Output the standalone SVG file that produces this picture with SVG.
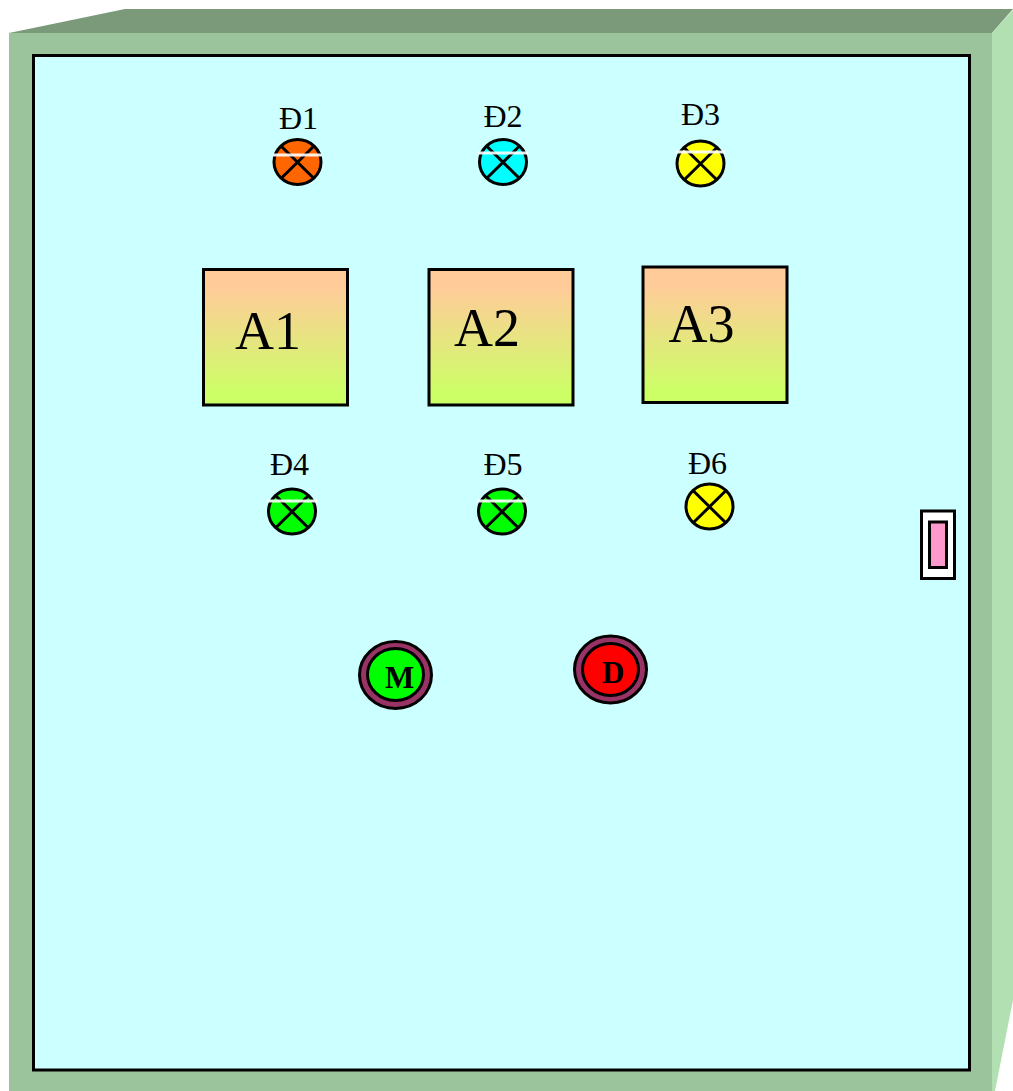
<svg xmlns="http://www.w3.org/2000/svg" width="1013" height="1091" viewBox="0 0 1013 1091">
<style>
text{font-family:"Liberation Serif","Times New Roman",serif;fill:#000}
.ol{stroke:#000;stroke-width:3}
.lbl{font-size:32px}
.big{font-size:54px}
.btn{font-size:31px;font-weight:bold}
.x{stroke:#000;stroke-width:3;fill:none}
.w{stroke:#fff;stroke-width:3;opacity:.9}
.ring{fill:#993366;stroke:#000;stroke-width:3}
</style>
<defs>
<linearGradient id="g" x1="0" y1="0" x2="0" y2="1"><stop offset="0.14" stop-color="#FFCC99"/><stop offset="0.92" stop-color="#CCFF66"/></linearGradient>
</defs>
<g id="cabinet">
<polygon points="9,33 125,9 1013,9 992,33" fill="#7A9A7A"/>
<polygon points="992,33 1013,10 1013,1000 995,1091 992,1091" fill="#B2E0B2"/>
<rect x="9" y="33" width="983" height="1058" fill="#9CC49C"/>
<rect x="33.5" y="55.5" width="936" height="1014.500" fill="#CCFFFF" class="ol"/>
</g>
<g id="lamp-d1">
<text class="lbl" x="279" y="129">Đ1</text>
<ellipse cx="297.500" cy="162" rx="23.500" ry="22.500" fill="#FF6600" class="ol"/>
<path class="x" d="M281 146L314 178.500M314 146L281 178.500"/>
<line class="w" x1="273" x2="322" y1="155" y2="155"/>
</g>
<g id="lamp-d2">
<text class="lbl" x="483.500" y="127">Đ2</text>
<ellipse cx="503" cy="162" rx="23.500" ry="22.500" fill="#00FFFF" class="ol"/>
<path class="x" d="M486.500 146L519.500 178.500M519.500 146L486.500 178.500"/>
<line class="w" x1="478" x2="528" y1="153" y2="153"/>
</g>
<g id="lamp-d3">
<text class="lbl" x="681" y="125">Đ3</text>
<ellipse cx="700.500" cy="163.500" rx="23.500" ry="22.500" fill="#FFFF00" class="ol"/>
<path class="x" d="M684 147.500L717 180M717 147.500L684 180"/>
<line class="w" x1="676" x2="725" y1="152" y2="152"/>
</g>
<g id="module-a1">
<rect x="203.500" y="269.500" width="144" height="135.500" fill="url(#g)" class="ol"/>
<text class="big" x="235" y="349">A1</text>
</g>
<g id="module-a2">
<rect x="429" y="269.500" width="144" height="135.500" fill="url(#g)" class="ol"/>
<text class="big" x="454" y="346">A2</text>
</g>
<g id="module-a3">
<rect x="643" y="267" width="144" height="135.500" fill="url(#g)" class="ol"/>
<text class="big" x="668.500" y="342">A3</text>
</g>
<g id="lamp-d4">
<text class="lbl" x="270" y="475">Đ4</text>
<ellipse cx="292" cy="511.500" rx="23.500" ry="22.500" fill="#00FF00" class="ol"/>
<path class="x" d="M275.500 495.500L308.500 528M308.500 495.500L275.500 528"/>
<line class="w" x1="267" x2="317" y1="501" y2="501"/>
</g>
<g id="lamp-d5">
<text class="lbl" x="483.500" y="475">Đ5</text>
<ellipse cx="502" cy="511.500" rx="23.500" ry="22.500" fill="#00FF00" class="ol"/>
<path class="x" d="M485.500 495.500L518.500 528M518.500 495.500L485.500 528"/>
<line class="w" x1="477" x2="527" y1="501" y2="501"/>
</g>
<g id="lamp-d6">
<text class="lbl" x="688" y="474">Đ6</text>
<ellipse cx="709.500" cy="506.500" rx="23.500" ry="22.500" fill="#FFFF00" class="ol"/>
<path class="x" d="M693 490.500L726 523M726 490.500L693 523"/>
</g>
<g id="switch">
<rect x="921.500" y="511" width="33" height="67.500" fill="#fff" class="ol"/>
<rect x="929.500" y="522" width="17" height="45.500" fill="#FF99CC" class="ol"/>
</g>
<g id="button-m">
<ellipse cx="395.500" cy="675" rx="36" ry="33.500" class="ring"/>
<ellipse cx="395.500" cy="674.500" rx="28" ry="26" fill="#00FF00" class="ol"/>
<text class="btn" x="385" y="688">M</text>
</g>
<g id="button-d">
<ellipse cx="610.500" cy="669.500" rx="36" ry="33.500" class="ring"/>
<ellipse cx="610.500" cy="669.500" rx="28" ry="26" fill="#FF0000" class="ol"/>
<text class="btn" x="602" y="683">D</text>
</g>
</svg>
